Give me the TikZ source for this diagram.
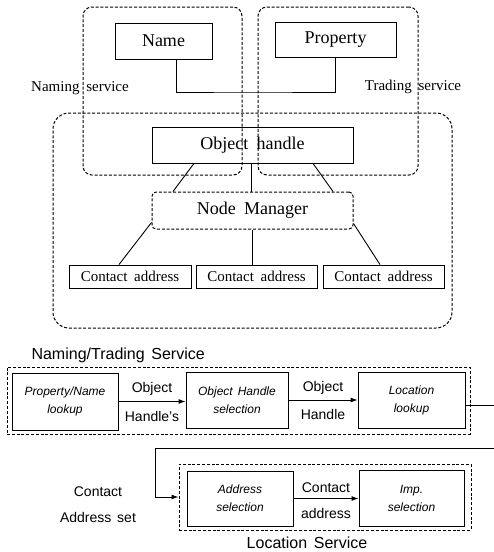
\documentclass[tikz,border=0pt]{standalone}
\usepackage{fontspec}
\setmainfont{Liberation Serif}[WordSpace=1.8]
\setsansfont{Liberation Sans}[WordSpace=1.5]
\usepackage{tikz}
\usetikzlibrary{arrows.meta}

\begin{document}
\begin{tikzpicture}[x=1pt,y=-1pt]

%
% Styles
%
\tikzstyle{block}   = [draw,line width=0.9pt,inner sep=0pt,font=\fontsize{18}{20}\selectfont]
\tikzstyle{addr}    = [draw,line width=0.9pt,inner sep=0pt,minimum height=23pt,font=\fontsize{15}{17}\selectfont]
\tikzstyle{region}  = [draw,line width=1pt,dash pattern=on 3pt off 1.8pt,inner sep=0pt]
\tikzstyle{stage}   = [draw,line width=0.9pt,inner sep=0pt,align=center,font=\sffamily\itshape\fontsize{12}{18}\selectfont]
\tikzstyle{caption} = [font=\fontsize{15}{17}\selectfont]
\tikzstyle{sflabel} = [font=\sffamily\fontsize{14}{16}\selectfont]
\tikzstyle{edge}    = [-{Latex[length=7pt,width=5pt]},line width=0.9pt]
\tikzstyle{wire}    = [line width=0.9pt]

\useasboundingbox (0,0) rectangle (494,552);

%
% Services and object handle
%
\node[region,rounded corners=9pt,minimum width=159pt,minimum height=168pt] (naming) at (162.5,91) {};
\node[region,rounded corners=9pt,minimum width=160pt,minimum height=168pt] (trading) at (338,91) {};
\node[region,rounded corners=16pt,minimum width=399pt,minimum height=215pt] (location) at (252.5,220.5) {};

\node[caption] (namingl)  at (80,88)  {Naming service};
\node[caption] (tradingl) at (413,87) {Trading service};

\node[block,minimum width=97pt,minimum height=36pt]  (name)     at (163.5,41)   {Name};
\node[block,minimum width=121pt,minimum height=35pt] (property) at (335.5,39.5) {Property};
\coordinate (join) at (250,92);
\draw[wire] ([xshift=12.5pt]name.south) |- (join) -| (property.south);

\node[block,minimum width=201pt,minimum height=36pt] (handle) at (252.5,145) {Object handle};
\node[region,rounded corners=4pt,minimum width=201pt,minimum height=37pt,font=\fontsize{18}{20}\selectfont] (nodemgr) at (252.5,210.5) {Node Manager};

\draw[wire] ([xshift=-58.5pt]handle.south) -- ([xshift=-79.5pt]nodemgr.north);
\draw[wire] ([xshift=-1.5pt]handle.south)  -- ([xshift=-1.5pt]nodemgr.north);
\draw[wire] ([xshift=60.5pt]handle.south)  -- ([xshift=80.5pt]nodemgr.north);

\node[addr,minimum width=122pt] (ca1) at (130,276.5)   {Contact address};
\node[addr,minimum width=121pt] (ca2) at (256.5,276.5) {Contact address};
\node[addr,minimum width=121pt] (ca3) at (383.5,276.5) {Contact address};

\draw[wire] ([yshift=7pt]nodemgr.south west) -- ([xshift=-11pt]ca1.north);
\draw[wire] (nodemgr.south) -- (nodemgr.south |- ca2.north);
\draw[wire] ([yshift=6pt]nodemgr.south east) -- ([xshift=-3.5pt]ca3.north);

%
% Naming/Trading service steps
%
\node[sflabel,font=\sffamily\fontsize{16}{18}\selectfont,anchor=west] (ntsl) at (28,355) {Naming/Trading Service};
\node[region,minimum width=463pt,minimum height=67pt] (nts) at (238.5,400.5) {};

\node[stage,minimum width=106pt,minimum height=57pt] (lookup)    at (65,401.5) {Property/Name\\lookup};
\node[stage,minimum width=102pt,minimum height=56pt] (select)    at (237,400)  {Object Handle\\selection};
\node[stage,minimum width=107pt,minimum height=56pt] (loclookup) at (411.5,400) {Location\\lookup};

\draw[edge] (lookup.east) -- (lookup.east -| select.west)
  node[midway,above=2pt,sflabel] {Object} node[midway,below=6pt,sflabel] {Handle's};
\draw[edge] (select.east) -- (loclookup.west)
  node[midway,above=2pt,sflabel] {Object} node[midway,below=6pt,sflabel] {Handle};

\coordinate (outA) at (494,405);
\draw[wire] ([yshift=-5pt]loclookup.east) -- (outA);

%
% Location service steps
%
\coordinate (inB)  at (494,448);
\coordinate (turn) at (155,448);
\node[region,minimum width=292pt,minimum height=66pt] (locsvc) at (325,497) {};
\draw[edge] (inB) -- (turn) |- (locsvc.west);

\node[stage,minimum width=106pt,minimum height=55pt] (addrsel) at (240,498.5) {Address\\selection};
\node[stage,minimum width=105pt,minimum height=56pt] (impsel)  at (411.5,498) {Imp.\\selection};

\draw[edge] (addrsel.east) -- (addrsel.east -| impsel.west)
  node[midway,above=2pt,sflabel] {Contact} node[midway,below=6pt,sflabel] {address};

\node[sflabel,font=\sffamily\fontsize{14}{26}\selectfont,align=center] (casl) at (98,505) {Contact\\Address set};
\node[sflabel,font=\sffamily\fontsize{16}{18}\selectfont] (locl) at (307,543) {Location Service};

\end{tikzpicture}
\end{document}
